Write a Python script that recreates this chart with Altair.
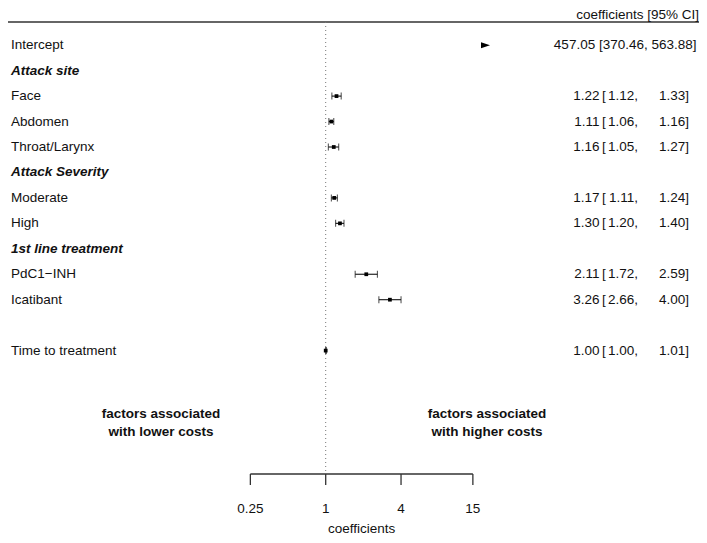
import math
import altair as alt
import pandas as pd

# ---------------- data ----------------
labels = ["Intercept", "Attack site", "Face", "Abdomen", "Throat/Larynx",
          "Attack Severity", "Moderate", "High", "1st line treatment",
          "PdC1\u2212INH", "Icatibant", "Time to treatment"]
rows = [0, 1, 2, 3, 4, 5, 6, 7, 8, 9, 10, 12]
is_group = [False, True, False, False, False, True, False, False, True, False, False, False]
est = [457.05, None, 1.22, 1.11, 1.16, None, 1.17, 1.30, None, 2.11, 3.26, 1.00]
lower = [370.46, None, 1.12, 1.06, 1.05, None, 1.11, 1.20, None, 1.72, 2.66, 1.00]
upper = [563.88, None, 1.33, 1.16, 1.27, None, 1.24, 1.40, None, 2.59, 4.00, 1.01]

axis_ticks = [0.25, 1, 4, 15]
axis_tick_labels = ["0.25", "1", "4", "15"]
alim_max = 20
ref_value = 1

# ---------------- layout ----------------
W, H = 691, 527
FONT = "Liberation Sans"
FS = 13.5
PX_PER_LOG2 = 37.67
X_ONE = 317.7          # plot-pixel position of value 1
XMIN = 2 ** (-X_ONE / PX_PER_LOG2)
XMAX = 2 ** ((W - X_ONE) / PX_PER_LOG2)
ROW0, ROWSTEP = 37.2, 25.45
YMIN = -ROW0 / ROWSTEP
YMAX = (H - ROW0) / ROWSTEP

xs = alt.Scale(type="log", base=2, domain=[XMIN, XMAX], nice=False)
ys = alt.Scale(domain=[YMIN, YMAX], reverse=True, nice=False, zero=False)

df = pd.DataFrame({"label": labels, "row": rows, "group": is_group,
                   "est": est, "lo": lower, "hi": upper})
df["in_range"] = df["hi"].apply(lambda v: v is not None and not pd.isna(v) and v <= alim_max)
df["clipped"] = df["lo"].apply(lambda v: v is not None and not pd.isna(v) and v > alim_max)

fmt = lambda v: f"{v:.2f}"
num = df[df["est"].notna()].copy()
num["est_s"] = num["est"].map(fmt)
num["lo_s"] = num["lo"].map(fmt) + ","
num["hi_s"] = num["hi"].map(fmt) + "]"
num["full"] = num["est_s"] + " [" + num["lo"].map(fmt) + ", " + num["hi_s"]
regular = num[~num["clipped"]]
clipped_rows = num[num["clipped"]].copy()
clipped_rows["alim"] = alim_max

ci = df[df["in_range"]]
ci_caps = pd.concat([ci[["row", "lo"]].rename(columns={"lo": "v"}),
                     ci[["row", "hi"]].rename(columns={"hi": "v"})])

ticks_df = pd.DataFrame({"t": axis_ticks, "lab": axis_tick_labels})
axis_line_df = pd.DataFrame({"a": [min(axis_ticks)], "b": [max(axis_ticks)]})
title_df = pd.DataFrame({"c": [math.sqrt(min(axis_ticks) * max(axis_ticks))],
                         "txt": ["coefficients"]})

Y = alt.Y("row:Q", scale=ys, axis=None)

base = alt.Chart(df)

header_line = alt.Chart(pd.DataFrame({"k": [0]})).mark_rule(
    color="#333333", strokeWidth=1.4).encode(
    x=alt.value(0), x2=alt.value(W), y=alt.value(14))

header_text = alt.Chart(pd.DataFrame({"t": ["coefficients [95% CI]"]})).mark_text(
    align="right", baseline="top", font=FONT, fontSize=FS, color="#111").encode(
    x=alt.value(W), y=alt.value(0), text="t:N")

ref_line = alt.Chart(pd.DataFrame({"ref": [ref_value]})).mark_rule(
    color="#777777", strokeWidth=1, strokeDash=[1, 3]).encode(
    x=alt.X("ref:Q", scale=xs, axis=None), y=alt.value(14), y2=alt.value(466))

label_plain = base.transform_filter("!datum.group").mark_text(
    align="left", baseline="middle", font=FONT, fontSize=FS, color="#111").encode(
    x=alt.value(3), y=Y, text="label:N")
label_group = base.transform_filter("datum.group").mark_text(
    align="left", baseline="middle", font=FONT, fontSize=FS, fontWeight="bold",
    fontStyle="italic", color="#111").encode(
    x=alt.value(3), y=Y, text="label:N")

ci_rule = alt.Chart(ci).mark_rule(color="#111", strokeWidth=1.1).encode(
    x=alt.X("lo:Q", scale=xs, axis=None), x2="hi:Q", y=Y)
caps = alt.Chart(ci_caps).mark_tick(orient="vertical", size=7, thickness=1.1,
                                    color="#111").encode(
    x=alt.X("v:Q", scale=xs, axis=None), y=Y)
points = alt.Chart(ci).mark_square(size=14, color="#000", opacity=1).encode(
    x=alt.X("est:Q", scale=xs, axis=None), y=Y)
arrow = alt.Chart(clipped_rows).mark_point(
    shape="M-1,-0.65L1,0L-1,0.65Z", size=81, filled=True, color="#000",
    opacity=1, xOffset=-3).encode(
    x=alt.X("alim:Q", scale=xs, axis=None), y=Y)

txt = dict(baseline="middle", font=FONT, fontSize=FS, color="#111")
est_text = alt.Chart(regular).mark_text(align="right", **txt).encode(
    x=alt.value(591.5), y=Y, text="est_s:N")
br_text = alt.Chart(regular).mark_text(align="left", **txt).encode(
    x=alt.value(594), y=Y, text=alt.value("["))
lo_text = alt.Chart(regular).mark_text(align="right", **txt).encode(
    x=alt.value(630), y=Y, text="lo_s:N")
hi_text = alt.Chart(regular).mark_text(align="right", **txt).encode(
    x=alt.value(681), y=Y, text="hi_s:N")
full_text = alt.Chart(clipped_rows).mark_text(align="right", **txt).encode(
    x=alt.value(688.5), y=Y, text="full:N")

ann_df = pd.DataFrame({
    "t": ["factors associated", "with lower costs",
          "factors associated", "with higher costs"],
    "px": [153, 153, 479, 479],
    "py": [406, 424, 406, 424]})
ann = alt.Chart(ann_df).mark_text(align="center", baseline="middle", font=FONT,
                                  fontSize=FS, fontWeight="bold", color="#111").encode(
    x=alt.X("px:Q", scale=None), y=alt.Y("py:Q", scale=None), text="t:N")

axis_line = alt.Chart(axis_line_df).mark_rule(color="#333", strokeWidth=1.3).encode(
    x=alt.X("a:Q", scale=xs, axis=None), x2="b:Q", y=alt.value(466))
axis_ticks_m = alt.Chart(ticks_df).mark_rule(color="#333", strokeWidth=1.3).encode(
    x=alt.X("t:Q", scale=xs, axis=None), y=alt.value(466), y2=alt.value(477))
axis_labels = alt.Chart(ticks_df).mark_text(
    align="center", baseline="middle", font=FONT, fontSize=FS, color="#111").encode(
    x=alt.X("t:Q", scale=xs, axis=None), y=alt.value(501), text="lab:N")
axis_title = alt.Chart(title_df).mark_text(
    align="center", baseline="alphabetic", font=FONT, fontSize=FS, color="#111").encode(
    x=alt.X("c:Q", scale=xs, axis=None), y=alt.value(525), text="txt:N")

chart = alt.layer(
    header_line, header_text, ref_line, label_plain, label_group,
    ci_rule, caps, points, arrow,
    est_text, br_text, lo_text, hi_text, full_text,
    ann, axis_line, axis_ticks_m, axis_labels, axis_title
).properties(
    width=W, height=H,
    autosize=alt.AutoSizeParams(type="none"),
    padding=0,
).configure(background="white", view=alt.ViewConfig(stroke=None))

chart.save("out.html", embed_options={"renderer": "svg", "actions": False})
